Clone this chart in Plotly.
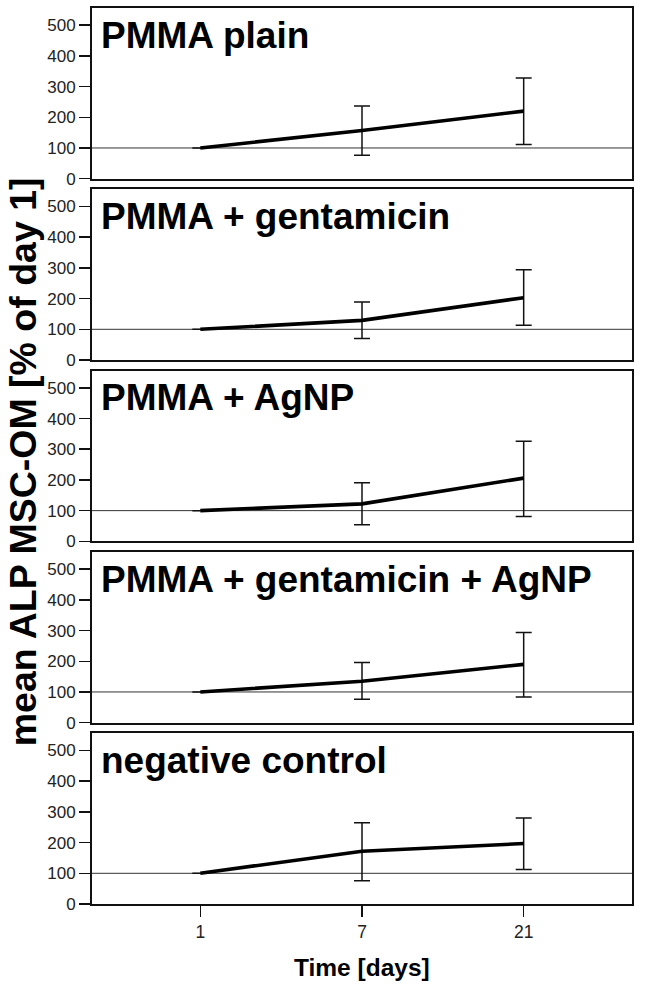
import plotly.graph_objects as go
from plotly.subplots import make_subplots

# ---- data ----
days = ["1", "7", "21"]
panel_titles = [
    "PMMA plain",
    "PMMA + gentamicin",
    "PMMA + AgNP",
    "PMMA + gentamicin + AgNP",
    "negative control",
]
mean_plain = [100, 157, 220]
mean_gent = [100, 129, 203]
mean_agnp = [100, 122, 206]
mean_gent_agnp = [100, 135, 190]
mean_neg = [100, 172, 197]

upper_plain = [100, 237, 328]
upper_gent = [100, 189, 294]
upper_agnp = [100, 191, 326]
upper_gent_agnp = [100, 196, 294]
upper_neg = [100, 265, 280]

lower_plain = [100, 76, 111]
lower_gent = [100, 70, 113]
lower_agnp = [100, 54, 81]
lower_gent_agnp = [100, 76, 84]
lower_neg = [100, 76, 112]

reference_level = 100
y_ticks = [0, 100, 200, 300, 400, 500]
y_title = "mean ALP MSC-OM [% of day 1]"
x_title = "Time [days]"

means = [mean_plain, mean_gent, mean_agnp, mean_gent_agnp, mean_neg]
uppers = [upper_plain, upper_gent, upper_agnp, upper_gent_agnp, upper_neg]
lowers = [lower_plain, lower_gent, lower_agnp, lower_gent_agnp, lower_neg]

# ---- figure ----
n = len(panel_titles)
fig = make_subplots(rows=n, cols=1, shared_xaxes=False, vertical_spacing=0.0119)

FONT = "Liberation Sans, Arial, Helvetica, sans-serif"
INK = "#111111"

for i in range(n):
    m = means[i]
    up = [u - v for u, v in zip(uppers[i], m)]
    lo = [v - l for v, l in zip(m, lowers[i])]
    fig.add_trace(
        go.Scatter(
            x=days,
            y=m,
            mode="lines",
            line=dict(color="#000000", width=3.6),
            error_y=dict(
                type="data",
                symmetric=False,
                array=up,
                arrayminus=lo,
                color=INK,
                thickness=1.5,
                width=8,
            ),
            showlegend=False,
            hoverinfo="skip",
        ),
        row=i + 1,
        col=1,
    )
    fig.add_hline(
        y=reference_level,
        line=dict(color="#333333", width=1),
        row=i + 1,
        col=1,
        layer="below",
    )

last = n
for i in range(1, n + 1):
    fig.update_xaxes(
        type="category",
        categoryorder="array",
        categoryarray=days,
        range=[-0.67, 2.67],
        showline=True,
        mirror=True,
        linecolor=INK,
        linewidth=2,
        showgrid=False,
        zeroline=False,
        ticks="outside" if i == last else "",
        ticklen=11,
        tickwidth=1.5,
        tickcolor=INK,
        showticklabels=(i == last),
        tickfont=dict(family=FONT, size=17.5, color="#222222"),
        row=i,
        col=1,
    )
    fig.update_yaxes(
        range=[0, 556],
        tickvals=y_ticks,
        ticks="outside",
        ticklen=11,
        tickwidth=1.5,
        tickcolor=INK,
        showline=True,
        mirror=True,
        linecolor=INK,
        linewidth=2,
        showgrid=False,
        zeroline=False,
        tickfont=dict(family=FONT, size=17, color="#222222"),
        row=i,
        col=1,
    )

# panel titles
for i, t in enumerate(panel_titles):
    yref = "y domain" if i == 0 else f"y{i + 1} domain"
    xref = "x domain" if i == 0 else f"x{i + 1} domain"
    fig.add_annotation(
        text=f"<b>{t}</b>",
        xref=xref,
        yref=yref,
        x=0.013,
        y=0.972,
        xanchor="left",
        yanchor="top",
        showarrow=False,
        font=dict(family=FONT, size=37, color="#000000"),
    )

# axis titles
fig.add_annotation(
    text=f"<b>{y_title}</b>",
    xref="paper",
    yref="paper",
    x=-0.128,
    y=0.494,
    xanchor="center",
    yanchor="middle",
    textangle=-90,
    showarrow=False,
    font=dict(family=FONT, size=37.5, color="#000000"),
)
fig.add_annotation(
    text=f"<b>{x_title}</b>",
    xref="paper",
    yref="paper",
    x=0.5,
    y=-0.071,
    xanchor="center",
    yanchor="middle",
    showarrow=False,
    font=dict(family=FONT, size=24.5, color="#000000"),
)

fig.update_layout(
    width=645,
    height=987,
    margin=dict(l=92, r=13, t=6, b=83),
    paper_bgcolor="white",
    plot_bgcolor="white",
    font=dict(family=FONT, color="#222222"),
)

fig.write_html(
    "out.html",
    config={"displayModeBar": False, "staticPlot": True},
    post_script="document.body.style.margin='0';",
)
